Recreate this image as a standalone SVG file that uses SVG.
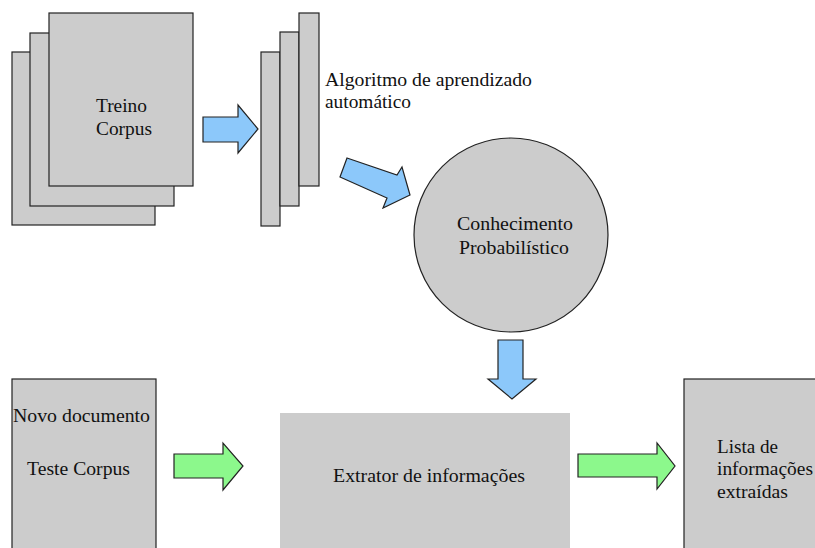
<svg xmlns="http://www.w3.org/2000/svg" width="815" height="548" viewBox="0 0 815 548">
<style>
.box{fill:#cccccc;stroke:#222222;stroke-width:1.2}
.plain{fill:#cccccc}
.blue{fill:#8cc8fa;stroke:#222222;stroke-width:1.2;stroke-linejoin:miter}
.green{fill:#8cf88c;stroke:#222222;stroke-width:1.2}
.t{font-family:'Liberation Serif','DejaVu Serif',serif;font-size:18px;fill:#111111}
</style>
<rect width="815" height="548" fill="#ffffff"/>
<g id="treino-corpus">
<rect class="box" x="12" y="52" width="143" height="173"/>
<rect class="box" x="30" y="33" width="144" height="173"/>
<rect class="box" x="49" y="13" width="144" height="173"/>
<text class="t" x="96" y="112" textLength="51" lengthAdjust="spacingAndGlyphs">Treino</text>
<text class="t" x="96" y="135" textLength="56" lengthAdjust="spacingAndGlyphs">Corpus</text>
</g>
<g id="algoritmo">
<rect class="box" x="261" y="52" width="19" height="174"/>
<rect class="box" x="280" y="32" width="19" height="174"/>
<rect class="box" x="299" y="13" width="20" height="173"/>
<text class="t" x="325" y="86" textLength="207" lengthAdjust="spacingAndGlyphs">Algoritmo de aprendizado</text>
<text class="t" x="325" y="108" textLength="86" lengthAdjust="spacingAndGlyphs">automático</text>
</g>
<g id="conhecimento">
<circle class="box" cx="511" cy="235" r="97"/>
<text class="t" x="457" y="230" textLength="116" lengthAdjust="spacingAndGlyphs">Conhecimento</text>
<text class="t" x="459" y="254" textLength="110" lengthAdjust="spacingAndGlyphs">Probabilístico</text>
</g>
<g id="novo-documento">
<rect class="box" x="12" y="379" width="144" height="180"/>
<text class="t" x="13" y="422" textLength="137" lengthAdjust="spacingAndGlyphs">Novo documento</text>
<text class="t" x="27" y="475" textLength="103" lengthAdjust="spacingAndGlyphs">Teste Corpus</text>
</g>
<g id="extrator">
<rect class="plain" x="280" y="413" width="290" height="140"/>
<text class="t" x="333" y="482" textLength="192" lengthAdjust="spacingAndGlyphs">Extrator de informações</text>
</g>
<g id="lista">
<rect class="box" x="684" y="379" width="140" height="180"/>
<text class="t" x="717" y="453" textLength="61" lengthAdjust="spacingAndGlyphs">Lista de</text>
<text class="t" x="717" y="475" textLength="96" lengthAdjust="spacingAndGlyphs">informações</text>
<text class="t" x="717" y="498" textLength="71" lengthAdjust="spacingAndGlyphs">extraídas</text>
</g>
<g id="connectors">
<polygon class="blue" points="203,117 238,117 238,105 258,129 238,153 238,142 203,142"/>
<polygon class="blue" points="347,158 397,175 402,167 410,195 383,208 387,198 340,177"/>
<polygon class="blue" points="498,340 523,340 523,379 536,379 512,399 488,379 498,379"/>
<polygon class="green" points="174,454 223,454 223,443 243,466 223,490 223,478 174,478"/>
<polygon class="green" points="578,454 657,454 657,443 675,466 657,489 657,477 578,477"/>
</g>
</svg>
